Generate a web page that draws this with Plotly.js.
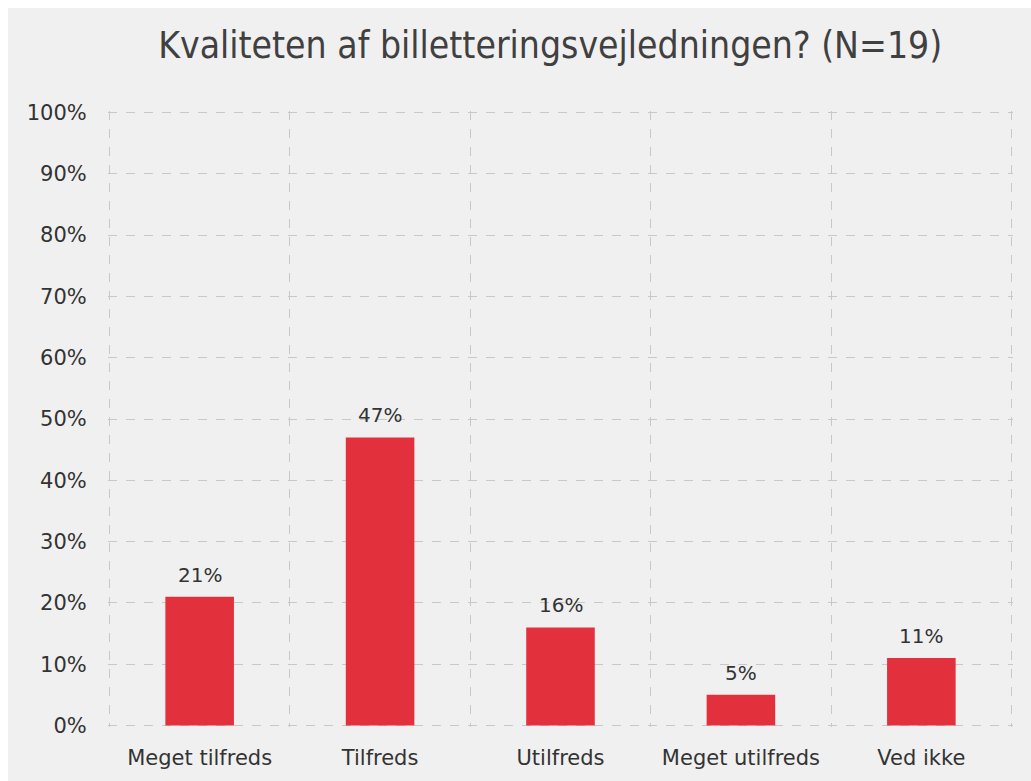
<!DOCTYPE html>
<html>
<head>
<meta charset="utf-8">
<script src="https://cdn.plot.ly/plotly-3.0.1.min.js"></script>
<style>
html,body{margin:0;padding:0;background:#ffffff;}
#chart{position:absolute;left:8px;top:8px;width:1023px;height:773px;}
</style>
</head>
<body>
<div id="chart"></div>
<script>
const categories = ["Meget tilfreds", "Tilfreds", "Utilfreds", "Meget utilfreds", "Ved ikke"];
const values = [0.21, 0.47, 0.16, 0.05, 0.11];
const valueLabels = ["21%", "47%", "16%", "5%", "11%"];
const yTickVals = [0, 0.1, 0.2, 0.3, 0.4, 0.5, 0.6, 0.7, 0.8, 0.9, 1.0];
const yTickText = ["0%", "10%", "20%", "30%", "40%", "50%", "60%", "70%", "80%", "90%", "100%"];
const titleText = "Kvaliteten af billetteringsvejledningen? (N=19)";

const labelFont = {family: "DejaVu Sans, Verdana, sans-serif", size: 20, color: "#333333"};
const tickFont = {family: "DejaVu Sans, Verdana, sans-serif", size: 21, color: "#333333"};

const trace = {
  type: "bar",
  x: categories,
  y: values,
  width: 0.38,
  marker: {color: "#e3303d"},
  hoverinfo: "none"
};

const annotations = categories.map((c, i) => ({
  x: c, y: values[i], xref: "x", yref: "y",
  text: valueLabels[i], showarrow: false,
  yanchor: "bottom", yshift: 8, font: labelFont
}));

const xRange = [-0.508, categories.length - 1 + 0.508];
const boundaries = categories.map((c, i) => i - 0.5).concat([categories.length - 0.5]);

const layout = {
  paper_bgcolor: "#f0f0f0",
  plot_bgcolor: "#f0f0f0",
  margin: {l: 100, r: 18, t: 103, b: 54},
  showlegend: false,
  annotations: annotations,
  title: {
    text: titleText,
    font: {family: "DejaVu Sans Condensed, DejaVu Sans, sans-serif", size: 37, color: "#404040"},
    xref: "container", x: 0.53, xanchor: "center",
    yref: "container", y: 0.952, yanchor: "middle"
  },
  xaxis: {
    type: "category",
    range: xRange,
    showgrid: false,
    ticks: "outside",
    ticklen: 12,
    tickcolor: "rgba(0,0,0,0)",
    showline: false,
    zeroline: false,
    automargin: false,
    tickfont: tickFont
  },
  xaxis2: {
    overlaying: "x",
    side: "bottom",
    anchor: "y",
    range: xRange,
    tickvals: boundaries,
    showticklabels: false,
    ticks: "",
    showgrid: true,
    gridcolor: "#c8c8c8",
    griddash: "dash",
    gridwidth: 1,
    zeroline: false,
    showline: false
  },
  yaxis: {
    range: [-0.0025, 1.0025],
    tickvals: yTickVals,
    ticktext: yTickText,
    showgrid: true,
    gridcolor: "#c8c8c8",
    griddash: "dash",
    gridwidth: 1,
    ticks: "outside",
    ticklen: 16,
    tickcolor: "rgba(0,0,0,0)",
    zeroline: false,
    showline: false,
    automargin: false,
    tickfont: tickFont
  }
};

const gridTrace = {type: "scatter", x: [], y: [], xaxis: "x2", yaxis: "y", hoverinfo: "none", showlegend: false};

Plotly.newPlot("chart", [gridTrace, trace], layout, {displayModeBar: false, staticPlot: true});
</script>
</body>
</html>
